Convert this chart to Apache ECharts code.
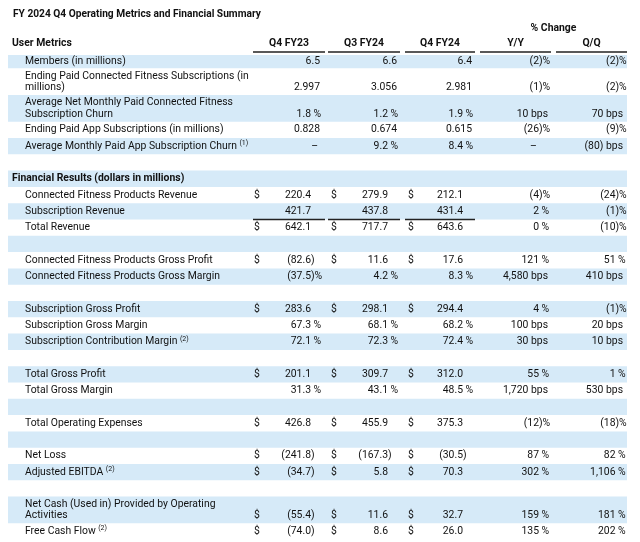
<!DOCTYPE html>
<html><head><meta charset="utf-8">
<script src="https://cdn.jsdelivr.net/npm/echarts@6/dist/echarts.min.js"></script>
<style>html,body{margin:0;padding:0;background:#fff}#c{width:640px;height:542px}</style>
</head><body><div id="c"></div>
<script>
// ---------- data ----------
const title = "FY 2024 Q4 Operating Metrics and Financial Summary";
const changeHeader = "% Change";
const columnHeaders = ["Q4 FY23", "Q3 FY24", "Q4 FY24", "Y/Y", "Q/Q"];
const userSection = "User Metrics";
const rowLabels = [
  "Members (in millions)",
  "Ending Paid Connected Fitness Subscriptions (in\nmillions)",
  "Average Net Monthly Paid Connected Fitness\nSubscription Churn",
  "Ending Paid App Subscriptions (in millions)",
  "Average Monthly Paid App Subscription Churn",
  "",
  "Financial Results (dollars in millions)",
  "Connected Fitness Products Revenue",
  "Subscription Revenue",
  "Total Revenue",
  "",
  "Connected Fitness Products Gross Profit",
  "Connected Fitness Products Gross Margin",
  "",
  "Subscription Gross Profit",
  "Subscription Gross Margin",
  "Subscription Contribution Margin",
  "",
  "Total Gross Profit",
  "Total Gross Margin",
  "",
  "Total Operating Expenses",
  "",
  "Net Loss",
  "Adjusted EBITDA",
  "",
  "Net Cash (Used in) Provided by Operating\nActivities",
  "Free Cash Flow"
];
const footnotes = ["","","","","(1)","","","","","","","","","","","","(2)","","","","","","","","(2)","","","(2)"];
const sectionRows = [6];
const dollarRows = [7, 9, 11, 14, 18, 21, 23, 24, 26, 27];
const q4fy23 = ["6.5","2.997","1.8 %","0.828","–","","","220.4","421.7","642.1","","(82.6)","(37.5)%","","283.6","67.3 %","72.1 %","","201.1","31.3 %","","426.8","","(241.8)","(34.7)","","(55.4)","(74.0)"];
const q3fy24 = ["6.6","3.056","1.2 %","0.674","9.2 %","","","279.9","437.8","717.7","","11.6","4.2 %","","298.1","68.1 %","72.3 %","","309.7","43.1 %","","455.9","","(167.3)","5.8","","11.6","8.6"];
const q4fy24 = ["6.4","2.981","1.9 %","0.615","8.4 %","","","212.1","431.4","643.6","","17.6","8.3 %","","294.4","68.2 %","72.4 %","","312.0","48.5 %","","375.3","","(30.5)","70.3","","32.7","26.0"];
const changeYY = ["(2)%","(1)%","10 bps","(26)%","–","","","(4)%","2 %","0 %","","121 %","4,580 bps","","4 %","100 bps","30 bps","","55 %","1,720 bps","","(12)%","","87 %","302 %","","159 %","135 %"];
const changeQQ = ["(2)%","(2)%","70 bps","(9)%","(80) bps","","","(24)%","(1)%","(10)%","","51 %","410 bps","","(1)%","20 bps","10 bps","","1 %","530 bps","","(18)%","","82 %","1,106 %","","181 %","202 %"];
const underlinedRows = [8];

// ---------- layout ----------
const FONT_FAMILY = 'Roboto, "Noto Sans", sans-serif';
const FS = 10.4;
const TITLE_FS = 10.2;
const TEXT_COLOR = '#111111';
const BAND_COLOR = '#d6eaf8';
const BAND_X = [8, 627];
const colSpans = [[253, 325], [328, 400], [405, 475], [480, 551], [556, 627]];
const numAnchor = [311, 388, 463];
const dollarX = [254, 331, 408];
const chgAnchor = [539, 615.5];
const bpsEdge = [548, 623];
const dashX = [533.5, 620];

const measureCtx = document.createElement('canvas').getContext('2d');
function textWidth(t, font) { measureCtx.font = font; return measureCtx.measureText(t).width; }
function fontStr(w, s) { return (w === 'bold' ? 'bold ' : '') + s + 'px ' + FONT_FAMILY; }

const rowTops = [], rowH = [];
let yCur = 55;
rowLabels.forEach((l, i) => {
  const h = i === 0 ? 13.3 : (l.indexOf('\n') >= 0 ? 26.7 : 16.3);
  rowTops.push(yCur); rowH.push(h); yCur += h;
});
function lineCenters(i) {
  const n = rowLabels[i].split('\n').length;
  if (n > 1) return [rowTops[i] + 7.7, rowTops[i] + 19.2];
  return [rowTops[i] + rowH[i] / 2];
}

const cells = [];
function addText(x, y, text, align, weight, size) {
  cells.push({ x: x, y: y, text: text, align: align || 'left', weight: weight || 'normal', size: size || FS });
}
function splitNum(s) { const m = s.match(/^(.*\d)(\D*)$/); return m ? [m[1], m[2]] : [s, '']; }

// headers
addText(12, 43.7, userSection, 'left', 'bold');
addText((colSpans[3][0] + colSpans[4][1]) / 2, 28, changeHeader, 'center', 'bold');
columnHeaders.forEach((h, c) => addText((colSpans[c][0] + colSpans[c][1]) / 2, 43.7, h, 'center', 'bold'));

rowLabels.forEach((label, i) => {
  if (!label) return;
  const centers = lineCenters(i);
  const isSec = sectionRows.indexOf(i) >= 0;
  const lx = isSec ? 12 : 25;
  const lines = label.split('\n');
  lines.forEach((ln, k) => addText(lx, centers[k], ln, 'left', isSec ? 'bold' : 'normal'));
  const vy = centers[centers.length - 1];
  if (footnotes[i]) {
    const w = textWidth(lines[lines.length - 1], fontStr('normal', FS));
    addText(lx + w + 2.5, vy - 3, footnotes[i], 'left', 'normal', 7);
  }
  [q4fy23, q3fy24, q4fy24].forEach((arr, c) => {
    const s = arr[i]; if (!s) return;
    const a = numAnchor[c];
    if (dollarRows.indexOf(i) >= 0) addText(dollarX[c], vy, '$', 'left');
    if (s === '–') { addText(a + 7, vy, s, 'right'); return; }
    if (i < 5 && /\d$/.test(s)) { addText(a + 9, vy, s, 'right'); return; }
    const p = splitNum(s);
    addText(a, vy, p[0], 'right');
    if (p[1]) addText(a, vy, p[1], 'left');
  });
  [changeYY, changeQQ].forEach((arr, c) => {
    const s = arr[i]; if (!s) return;
    if (s === '–') { addText(dashX[c], vy, s, 'center'); return; }
    if (/bps$/.test(s)) { addText(bpsEdge[c], vy, s, 'right'); return; }
    const p = splitNum(s);
    addText(chgAnchor[c], vy, p[0], 'right');
    if (p[1]) addText(chgAnchor[c], vy, p[1], 'left');
  });
});

// bands
const bands = [];
rowLabels.forEach((l, i) => { if (i % 2 === 0) bands.push([rowTops[i], rowTops[i] + rowH[i]]); });

// rules
const rules = [];
colSpans.forEach(sp => rules.push([sp[0], sp[1], 52]));
underlinedRows.forEach(i => {
  for (let c = 0; c < 3; c++) rules.push([colSpans[c][0], colSpans[c][1], rowTops[i] + rowH[i]]);
});

// ---------- chart ----------
const chart = echarts.init(document.getElementById('c'), null, { renderer: 'canvas' });
chart.setOption({
  animation: false,
  backgroundColor: '#ffffff',
  title: {
    text: title, left: 8, top: 4,
    textStyle: { fontFamily: FONT_FAMILY, fontWeight: 'bold', fontSize: TITLE_FS, color: TEXT_COLOR }
  },
  grid: { left: 0, right: 0, top: 0, bottom: 0 },
  xAxis: { type: 'value', min: 0, max: 640, show: false },
  yAxis: { type: 'value', min: 0, max: 542, inverse: true, show: false },
  series: [
    {
      type: 'custom', name: 'bands', silent: true, z: 1,
      data: bands.map(b => [BAND_X[0], b[0], BAND_X[1], b[1]]),
      renderItem: function (params, api) {
        const p0 = api.coord([api.value(0), api.value(1)]);
        const p1 = api.coord([api.value(2), api.value(3)]);
        return { type: 'rect', shape: { x: p0[0], y: p0[1], width: p1[0] - p0[0], height: p1[1] - p0[1] }, style: { fill: BAND_COLOR } };
      }
    },
    {
      type: 'custom', name: 'rules', silent: true, z: 2,
      data: rules.map(r => [r[0], r[2], r[1]]),
      renderItem: function (params, api) {
        const p0 = api.coord([api.value(0), api.value(1)]);
        const p1 = api.coord([api.value(2), api.value(1)]);
        return { type: 'line', shape: { x1: p0[0], y1: p0[1], x2: p1[0], y2: p1[1] }, style: { stroke: '#222', lineWidth: 1.3 } };
      }
    },
    {
      type: 'custom', name: 'cells', silent: true, z: 3,
      data: cells.map(c => [c.x, c.y]),
      renderItem: function (params, api) {
        const c = cells[params.dataIndex];
        const p = api.coord([api.value(0), api.value(1)]);
        return {
          type: 'text', x: p[0], y: p[1],
          style: {
            text: c.text, fill: TEXT_COLOR,
            font: fontStr(c.weight, c.size),
            align: c.align, verticalAlign: 'middle',
            textAlign: c.align, textVerticalAlign: 'middle'
          }
        };
      }
    }
  ]
});
</script></body></html>
